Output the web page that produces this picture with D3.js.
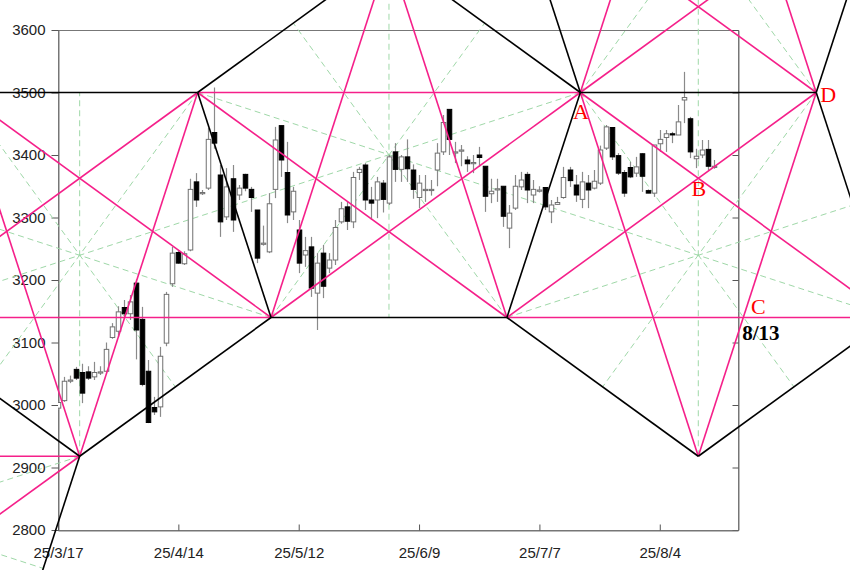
<!DOCTYPE html>
<html>
<head>
<meta charset="utf-8">
<script src="https://cdn.jsdelivr.net/npm/d3@7"></script>
<style>
  body { margin: 0; background: #fff; }
  svg { display: block; }
</style>
</head>
<body>
<svg id="chart" width="850" height="570"></svg>
<script>
// x is the trading-day number, day 0 = 25/3/17
const tickDays = [0, 20, 40, 60, 80, 100];
const tickLabels = ["25/3/17", "25/4/14", "25/5/12", "25/6/9", "25/7/7", "25/8/4"];
const priceTicks = [2800, 2900, 3000, 3100, 3200, 3300, 3400, 3500, 3600];

// daily candles
const opens  = [2995,3007,3039,3057,3052,3053,3045,3052,3054,3108,3118,3156,3146,3195,3137,3054,2996,2997,3099,3194,
                3244,3226,3248,3357,3340,3347,3436,3368,3301,3362,3336,3369,3345,3312,3259,3245,3345,3447,3372,3309,
                3280,3240,3253,3179,3243,3219,3232,3293,3317,3293,3372,3384,3328,3328,3355,3323,3405,3377,3397,3376,
                3332,3345,3344,3376,3405,3473,3405,3408,3392,3388,3400,3382,3338,3346,3350,3283,3315,3349,3369,3336,
                3342,3348,3309,3321,3332,3376,3352,3329,3355,3347,3355,3411,3444,3399,3372,3380,3371,3402,3343,3339,
                3418,3428,3434,3432,3488,3458,3394,3400,3409,3382];
const highs  = [3006,3045,3047,3061,3066,3062,3069,3062,3100,3131,3158,3168,3176,3201,3157,3072,3013,3093,3181,3253,
                3248,3246,3362,3371,3344,3443,3508,3384,3379,3384,3352,3370,3349,3312,3287,3339,3445,3447,3421,3349,
                3296,3269,3269,3243,3256,3243,3296,3325,3325,3373,3381,3387,3349,3365,3360,3400,3419,3400,3425,3385,
                3368,3368,3360,3419,3464,3473,3421,3416,3398,3400,3413,3382,3362,3362,3350,3320,3368,3373,3373,3360,
                3350,3348,3328,3333,3381,3381,3368,3373,3368,3376,3415,3448,3444,3403,3376,3389,3397,3403,3345,3416,
                3440,3440,3437,3480,3533,3461,3410,3424,3424,3392];
const lows   = [2992,3005,3035,3040,3003,3040,3040,3048,3054,3106,3109,3139,3136,3073,3030,2971,2984,2981,3094,3189,
                3226,3224,3246,3317,3336,3344,3410,3269,3296,3277,3328,3342,3309,3227,3255,3243,3331,3365,3291,3296,
                3211,3221,3173,3120,3171,3211,3224,3290,3280,3283,3360,3312,3296,3299,3308,3320,3357,3357,3357,3330,
                3315,3325,3335,3350,3400,3400,3387,3382,3373,3371,3381,3309,3323,3325,3285,3251,3312,3344,3323,3323,
                3340,3312,3291,3320,3330,3349,3325,3315,3315,3345,3352,3408,3392,3368,3333,3363,3365,3341,3339,3333,
                3405,3405,3419,3432,3451,3395,3379,3395,3376,3378];
const closes = [3004,3038,3040,3043,3019,3043,3052,3053,3089,3125,3149,3146,3165,3120,3033,2972,2989,3078,3177,3243,
                3227,3242,3345,3328,3340,3425,3419,3293,3349,3296,3347,3347,3332,3235,3259,3322,3424,3392,3304,3342,
                3227,3247,3187,3227,3190,3232,3284,3314,3294,3364,3377,3328,3323,3357,3329,3397,3377,3397,3378,3345,
                3355,3345,3345,3403,3452,3425,3405,3408,3386,3388,3396,3334,3342,3346,3302,3307,3350,3360,3344,3345,
                3344,3317,3320,3324,3364,3359,3336,3357,3344,3358,3408,3445,3397,3371,3339,3365,3381,3366,3339,3416,
                3425,3434,3433,3453,3492,3405,3398,3408,3382,3382];

// corners of the pentagram grid: name, trading day, price
const pivots = [
  ["T0", 55, 3722],
  ["H0", -16, 3500], ["H1", 23.2, 3500], ["A", 86.8, 3500], ["D", 126, 3500],
  ["Lm", -28.2, 3140], ["L2", 35.4, 3140], ["L3", 74.6, 3140], ["Rr", 138.2, 3140],
  ["L1", 3.6, 2918], ["L4", 106.4, 2918],
  ["Q1", -60, 2918], ["Q2", -8.5, 2559], ["Q3", -47.8, 2559],
  ["U1", 106.4, 4082], ["U2", 74.6, 3860], ["U3", 138.2, 3860]
];
// five corners of each star, in order round the pentagon
const stars = [
  ["T0", "A", "L3", "L2", "H1"],
  ["L1", "L2", "H1", "H0", "Lm"],
  ["L4", "Rr", "D", "A", "L3"],
  ["Lm", "L1", "Q2", "Q3", "Q1"],
  ["U1", "U3", "D", "A", "U2"]
];
// marks written on the chart: text, trading day, price
const notes = [["A", 86.9, 3458], ["B", 106.5, 3334], ["D", 128, 3485], ["C", 116.4, 3146]];
const dateNote = ["8/13", 116.8, 3104];

const W = 850, H = 570;
const plot = {left: 58, right: 738, top: 30, bottom: 530};

const x = d3.scaleLinear().domain([0, 113]).range([plot.left, plot.right]);
const y = d3.scaleLinear().domain([2800, 3600]).range([plot.bottom, plot.top]);

const svg = d3.select("#chart");

svg.append("clipPath").attr("id", "plotclip")
   .append("rect")
   .attr("x", plot.left).attr("y", plot.top)
   .attr("width", plot.right - plot.left).attr("height", plot.bottom - plot.top);

// frame
svg.append("rect")
   .attr("x", plot.left + 0.5).attr("y", plot.top + 0.5)
   .attr("width", plot.right - plot.left).attr("height", plot.bottom - plot.top)
   .attr("fill", "none").attr("stroke", "#777");

const yAxis = svg.append("g")
   .attr("transform", `translate(${plot.left + 0.5},0)`)
   .call(d3.axisLeft(y).tickValues(priceTicks).tickFormat(d3.format("d")).tickSizeInner(7).tickSizeOuter(0).tickPadding(6));

const yAxisR = svg.append("g")
   .attr("transform", `translate(${plot.right + 0.5},0)`)
   .call(d3.axisRight(y).tickValues(priceTicks).tickFormat("").tickSizeInner(-6).tickSizeOuter(0));

const xAxis = svg.append("g")
   .attr("transform", `translate(0,${plot.bottom + 0.5})`)
   .call(d3.axisBottom(x).tickValues(tickDays).tickFormat((d, i) => tickLabels[i]).tickSizeInner(-6).tickSizeOuter(0).tickPadding(17));

[yAxis, yAxisR, xAxis].forEach(g => {
  g.select(".domain").attr("stroke", "#777");
  g.selectAll(".tick line").attr("stroke", "#555");
  g.selectAll("text")
   .attr("font-family", "Liberation Sans, Arial, sans-serif")
   .attr("font-size", 15)
   .attr("fill", "#222");
});

// geometry helpers
const pt = {};
pivots.forEach(p => pt[p[0]] = {k: p[1], v: p[2]});

const edges = new Map(), chords = new Map(), spokes = [];
stars.forEach(s => {
  for (let i = 0; i < 5; i++) {
    const a = s[i], b = s[(i + 1) % 5], c = s[(i + 2) % 5], d = s[(i + 3) % 5];
    edges.set([a, b].sort().join("-"), [pt[a], pt[b]]);
    chords.set([a, c].sort().join("-"), [pt[a], pt[c]]);
    spokes.push([pt[a], {k: (pt[c].k + pt[d].k) / 2, v: (pt[c].v + pt[d].v) / 2}]);
  }
});

function drawSegs(list, color, width, dash) {
  svg.append("g")
    .selectAll("line")
    .data(list)
    .join("line")
    .attr("x1", d => x(d[0].k)).attr("y1", d => y(d[0].v))
    .attr("x2", d => x(d[1].k)).attr("y2", d => y(d[1].v))
    .attr("stroke", color)
    .attr("stroke-width", width)
    .attr("stroke-dasharray", dash);
}

drawSegs(spokes, "#9fd8a8", 1, "6,4");

// candles
const days = d3.range(opens.length);
const bodyW = (x(1) - x(0)) * 0.75;
const candles = svg.append("g").attr("clip-path", "url(#plotclip)");

candles.selectAll(".wick")
  .data(days)
  .join("line")
  .attr("class", "wick")
  .attr("x1", i => Math.round(x(i)) + 0.5).attr("x2", i => Math.round(x(i)) + 0.5)
  .attr("y1", i => y(highs[i])).attr("y2", i => y(lows[i]))
  .attr("stroke", "#8a8a8a").attr("stroke-width", 1.2);

candles.selectAll(".body")
  .data(days)
  .join("rect")
  .attr("class", "body")
  .attr("x", i => Math.round(x(i)) + 0.5 - bodyW / 2)
  .attr("y", i => y(Math.max(opens[i], closes[i])))
  .attr("width", bodyW)
  .attr("height", i => Math.max(1.2, Math.abs(y(opens[i]) - y(closes[i]))))
  .attr("fill", i => closes[i] >= opens[i] ? "#fff" : "#000")
  .attr("stroke", i => closes[i] >= opens[i] ? "#707070" : "#000")
  .attr("stroke-width", 1);

drawSegs([...chords.values()], "#f5208a", 1.6, null);
drawSegs([...edges.values()], "#000", 1.6, null);

// letters
svg.append("g")
  .selectAll("text")
  .data(notes)
  .join("text")
  .attr("x", d => x(d[1])).attr("y", d => y(d[2]))
  .attr("text-anchor", "middle")
  .attr("font-family", "Liberation Serif, Times New Roman, serif")
  .attr("font-size", 22)
  .attr("fill", "#ff0000")
  .text(d => d[0]);

svg.append("text")
  .attr("x", x(dateNote[1])).attr("y", y(dateNote[2]))
  .attr("text-anchor", "middle")
  .attr("font-family", "Liberation Serif, Times New Roman, serif")
  .attr("font-weight", "bold")
  .attr("font-size", 21)
  .attr("fill", "#000")
  .text(dateNote[0]);
</script>
</body>
</html>
